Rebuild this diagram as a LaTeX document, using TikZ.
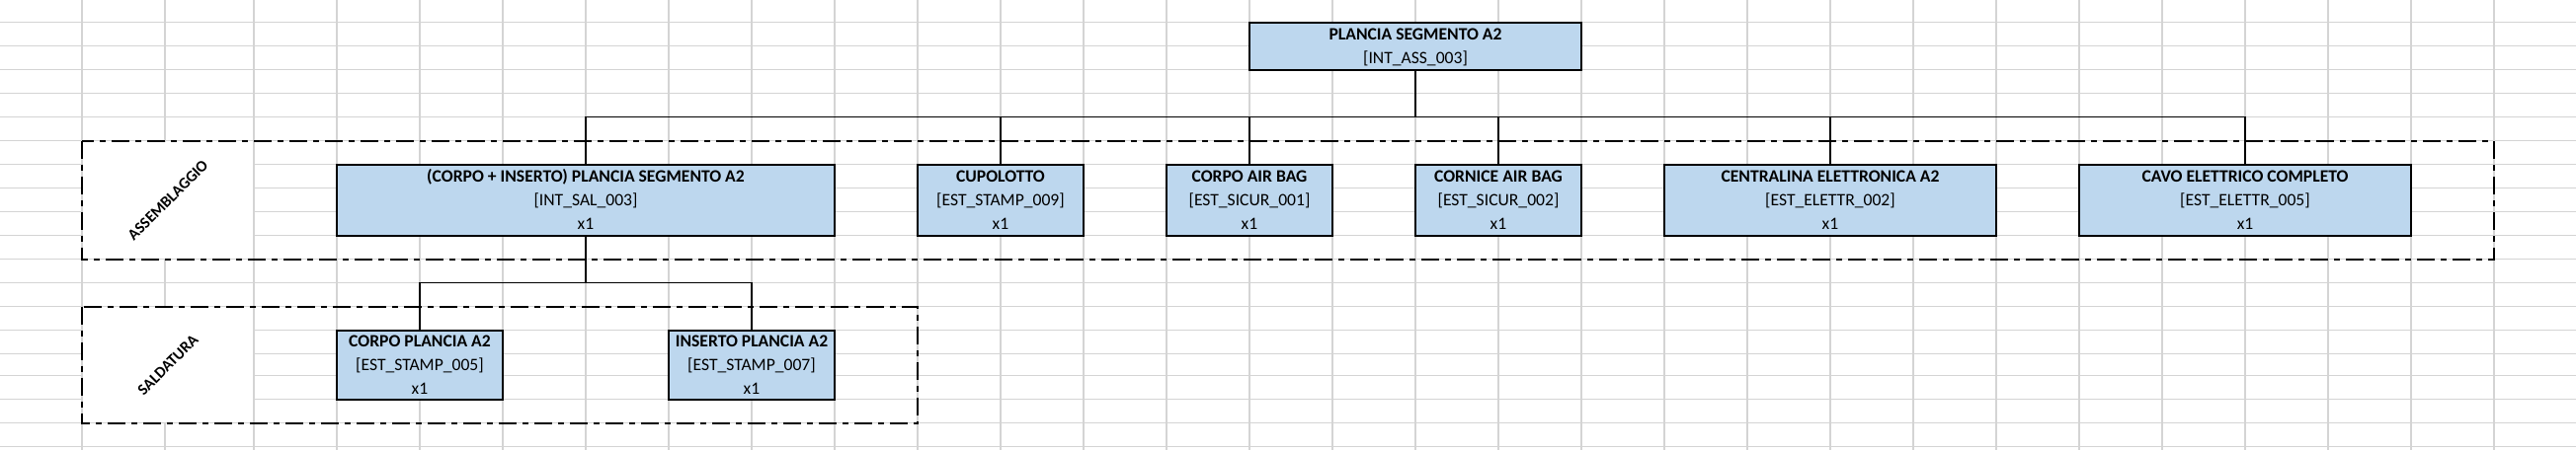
\documentclass[tikz,border=0pt]{standalone}
\usepackage{fontspec}
\setmainfont{Carlito}
\definecolor{boxblue}{HTML}{BDD7EE}
\definecolor{gridgray}{HTML}{D4D4D4}
\newcommand\ls{\rule[-3pt]{0pt}{17pt}}
\begin{document}
\begin{tikzpicture}[x=1pt,y=-1pt,
  box/.style={draw=black,line width=2pt,fill=boxblue,align=center,inner sep=0pt,
    font=\fontsize{17.6}{24}\selectfont},
  conn/.style={draw=black,line width=1.4pt},
  frame/.style={draw=black,line width=2pt,dash pattern=on 18pt off 6pt on 6pt off 6pt},
  gridline/.style={draw=gridgray,line width=1.5pt},
  phase/.style={font=\fontsize{16}{19}\selectfont\bfseries,rotate=45,inner sep=0pt}]
\useasboundingbox (0,0) rectangle (2608,456);
\fill[white] (0,0) rectangle (2608,456);
% spreadsheet grid
\foreach \x in {83,167} \draw[gridline] (\x,0) -- (\x,456);
\foreach \x in {257,341,...,2525} \draw[gridline] (\x,0) -- (\x,456);
\foreach \k in {0,...,14} \draw[gridline] (0,22.7+24*\k) -- (2608,22.7+24*\k);
\foreach \y in {380.7,404.7,428.7,452.7} \draw[gridline] (0,\y) -- (2608,\y);
% merged label cells
\fill[white] (84,143.6) rectangle (256.2,261.8);
\fill[white] (84,311.6) rectangle (256.2,427.8);
% phase frames
\draw[frame] (83,142.7) rectangle (2525,262.7);
\draw[frame] (83,310.7) rectangle (929,428.7);
\node[phase] (lblasm) at (170,202.7) {ASSEMBLAGGIO};
\node[phase] (lblsal) at (170,369.7) {SALDATURA};
% boxes
\node[box,minimum width=336pt,minimum height=48pt] (top) at (1433,46.7)
  {\bfseries\ls PLANCIA SEGMENTO A2\\\ls[INT\_ASS\_003]};
\node[box,minimum width=504pt,minimum height=72pt] (A) at (593,202.7)
  {\bfseries\ls (CORPO + INSERTO) PLANCIA SEGMENTO A2\\\ls[INT\_SAL\_003]\\\ls x1};
\node[box,minimum width=168pt,minimum height=72pt] (B) at (1013,202.7)
  {\bfseries\ls CUPOLOTTO\\\ls[EST\_STAMP\_009]\\\ls x1};
\node[box,minimum width=168pt,minimum height=72pt] (C) at (1265,202.7)
  {\bfseries\ls CORPO AIR BAG\\\ls[EST\_SICUR\_001]\\\ls x1};
\node[box,minimum width=168pt,minimum height=72pt] (D) at (1517,202.7)
  {\bfseries\ls CORNICE AIR BAG\\\ls[EST\_SICUR\_002]\\\ls x1};
\node[box,minimum width=336pt,minimum height=72pt] (E) at (1853,202.7)
  {\bfseries\ls CENTRALINA ELETTRONICA A2\\\ls[EST\_ELETTR\_002]\\\ls x1};
\node[box,minimum width=336pt,minimum height=72pt] (F) at (2273,202.7)
  {\bfseries\ls CAVO ELETTRICO COMPLETO\\\ls[EST\_ELETTR\_005]\\\ls x1};
\node[box,minimum width=168pt,minimum height=70pt] (G) at (425,369.7)
  {\bfseries\ls CORPO PLANCIA A2\\\ls[EST\_STAMP\_005]\\\ls x1};
\node[box,minimum width=168pt,minimum height=70pt] (H) at (761,369.7)
  {\bfseries\ls INSERTO PLANCIA A2\\\ls[EST\_STAMP\_007]\\\ls x1};
% connectors
\coordinate (busy) at (0,118.7);
\coordinate (subbusy) at (0,286.7);
\draw[conn] (top.south) -- (top.south |- busy);
\draw[conn] (A.north) -- (A.north |- busy) -- (F.north |- busy) -- (F.north);
\foreach \n in {B,C,D,E} \draw[conn] (\n.north) -- (\n.north |- busy);
\draw[conn] (A.south) -- (A.south |- subbusy);
\draw[conn] (G.north) -- (G.north |- subbusy) -- (H.north |- subbusy) -- (H.north);
\end{tikzpicture}
\end{document}
